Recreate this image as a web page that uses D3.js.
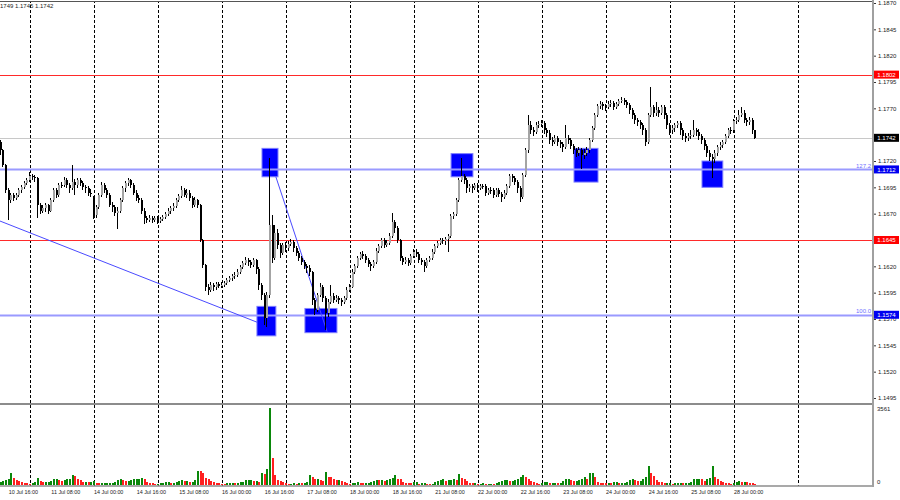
<!DOCTYPE html>
<html><head><meta charset="utf-8">
<script src="https://cdn.jsdelivr.net/npm/d3@7"></script>
<style>body{margin:0;background:#fff}svg{display:block}text{font-family:"Liberation Sans",Arial,sans-serif}</style>
</head><body><svg id="c" width="900" height="500"></svg>
<script>
// Prices in pips above 1.1500 (EURUSD H1), one entry per hourly bar, 10 Jul 13:00 .. 28 Jul 08:00
const OPEN=[238,230,216,192,183,188,185,188,192,195,199,202,206,205,204,178,173,175,178,173,183,192,188,197,197,202,197,194,200,197,202,199,195,194,190,185,169,176,188,197,192,188,178,176,171,173,183,194,199,202,197,190,185,183,173,166,164,166,164,166,163,165,167,170,173,175,177,183,187,192,188,190,185,178,183,178,145,121,100,98,102,100,103,101,102,104,107,109,111,112,115,119,123,126,124,121,126,117,102,93,71,93,159,128,152,140,133,140,137,141,143,137,133,128,124,120,118,115,88,79,93,100,90,76,86,92,88,90,88,86,90,98,100,115,120,128,132,130,126,122,120,124,135,139,145,140,142,149,162,156,145,128,124,126,123,130,134,132,126,124,120,126,128,134,139,142,145,144,146,149,168,170,183,202,206,202,194,196,194,197,194,196,196,190,192,192,188,192,189,186,190,196,206,204,200,194,186,207,230,254,249,248,254,255,256,249,247,240,238,242,238,236,233,242,240,234,230,228,230,226,228,230,240,251,264,272,274,272,271,274,275,271,274,277,278,276,273,268,264,259,257,254,249,238,264,271,266,268,266,271,264,254,249,251,254,256,249,244,242,244,245,249,248,244,240,234,228,224,222,228,233,235,238,244,249,249,258,259,264,266,259,257,259,249];
const HIGH=[240,231,217,194,190,190,190,194,197,201,204,210,208,207,205,180,178,180,179,185,194,194,199,200,205,204,199,216,203,204,204,201,197,196,193,187,178,190,200,199,194,190,181,178,176,185,196,201,204,203,199,192,188,185,175,168,169,168,168,168,167,169,172,175,177,180,185,189,196,194,193,192,187,186,184,179,146,122,103,105,104,105,105,105,106,109,111,113,115,117,121,125,129,128,126,128,127,119,104,95,96,223,169,159,155,142,142,143,144,146,145,139,135,130,126,122,121,116,90,95,104,102,92,89,102,95,93,92,90,92,100,103,117,122,130,134,135,132,128,124,126,137,141,147,147,145,152,171,164,158,146,130,129,128,132,136,136,134,128,126,128,130,136,141,144,147,147,148,151,170,172,185,204,223,208,204,198,198,199,199,198,198,198,194,195,194,194,194,191,192,198,208,208,206,202,196,209,232,264,258,252,257,258,259,258,251,249,243,245,244,240,238,254,245,242,236,232,233,232,231,233,242,253,266,274,277,276,274,277,278,277,276,279,281,280,278,275,270,266,261,259,256,251,266,290,273,276,271,273,273,266,256,254,256,258,258,251,247,247,249,259,251,250,246,242,236,230,227,230,235,238,240,246,251,252,260,262,268,271,268,261,262,261,249];
const LOW=[226,214,190,164,180,182,183,186,190,193,197,200,202,200,166,170,171,172,170,172,181,185,186,194,195,194,190,192,188,194,196,192,190,187,186,165,166,174,186,190,185,176,172,168,155,171,181,191,196,194,188,182,180,170,160,161,162,161,162,160,161,163,165,168,170,173,175,181,185,186,185,182,175,176,175,143,118,97,93,96,97,98,99,99,100,102,105,106,108,110,113,117,121,120,118,119,113,98,88,64,62,90,123,126,136,128,131,134,135,139,134,130,125,121,117,114,111,83,74,77,91,86,60,72,84,85,86,84,82,84,88,96,99,113,118,126,127,123,119,116,118,122,133,137,137,138,140,147,152,142,125,121,122,120,121,128,129,123,121,115,118,124,126,132,137,140,141,140,134,147,165,168,181,200,198,190,191,190,192,191,192,193,187,188,189,185,186,186,181,184,188,194,200,197,190,181,184,205,228,246,244,246,251,252,246,243,236,234,236,234,232,229,231,236,231,227,224,225,212,222,225,228,238,249,262,269,268,267,269,271,268,269,272,275,273,270,265,260,255,253,250,245,234,236,262,262,263,262,264,260,250,245,246,248,251,245,240,238,239,241,243,244,240,236,230,224,220,204,218,225,230,232,236,242,246,247,255,257,262,256,253,254,246,241];
const CLOSE=[230,216,192,183,188,185,188,192,195,199,202,206,205,204,178,173,175,178,173,183,192,188,197,197,202,197,194,200,197,202,199,195,194,190,190,169,176,188,197,192,188,178,176,171,173,183,194,199,202,197,190,185,183,173,166,164,166,164,166,163,165,167,170,173,175,177,183,187,192,188,190,185,178,183,178,145,121,100,98,102,100,103,101,102,104,107,109,111,112,115,119,123,126,124,121,126,117,102,93,71,93,159,128,152,140,133,140,137,141,143,137,133,128,124,120,118,115,88,79,93,100,90,76,86,92,88,90,88,86,90,98,100,115,120,128,132,130,126,122,120,124,135,139,145,140,142,149,162,156,145,128,124,126,123,130,134,132,126,124,120,126,128,134,139,142,145,144,146,149,168,170,183,202,206,202,194,196,194,197,194,196,196,190,192,192,188,192,189,186,190,196,206,204,200,194,186,207,230,254,249,248,254,255,256,249,247,240,238,242,238,236,233,242,240,234,230,228,230,226,228,230,240,251,264,272,274,272,271,274,275,271,274,277,278,276,273,268,264,259,257,254,249,238,264,271,266,268,266,271,264,254,249,251,254,256,249,244,242,244,245,249,248,244,240,234,228,224,222,228,233,235,238,244,249,249,258,259,264,266,259,257,259,249,242];
const VOLUME=[152,198,230,262,566,322,230,184,152,106,78,60,78,152,322,184,138,138,152,184,290,290,230,198,230,276,290,460,414,262,230,138,138,124,124,184,106,92,92,92,92,92,92,124,230,262,230,198,198,230,262,262,290,336,290,138,106,78,60,60,78,78,124,124,92,92,124,184,230,184,184,152,152,230,658,644,566,322,262,184,138,106,78,60,46,78,92,92,78,78,124,152,230,230,230,198,198,152,538,492,722,3561,1256,460,230,184,138,78,46,46,78,60,92,78,78,152,460,354,262,290,230,184,584,382,354,276,230,230,170,124,92,60,78,92,124,106,92,92,92,138,184,230,216,230,184,230,290,336,446,276,262,152,106,92,78,124,138,60,78,78,60,46,60,152,198,230,262,198,230,230,262,230,492,336,262,198,106,78,78,32,60,92,60,60,60,32,78,124,198,230,230,198,198,230,262,382,474,382,262,184,124,78,60,92,124,124,106,106,106,78,78,184,262,276,230,198,198,230,262,382,290,538,538,354,152,106,92,78,106,92,124,138,78,78,78,138,230,276,230,184,184,262,382,874,538,428,230,152,138,106,106,106,60,78,106,106,78,78,92,152,276,290,290,262,198,262,322,874,382,276,198,152,106,78,60,106,138,184,152,152,124,106,92,46];

const priceTicks=[1.1870,1.1845,1.1820,1.1795,1.1770,1.1745,1.1720,1.1695,1.1670,1.1645,1.1620,1.1595,1.1570,1.1545,1.1520,1.1495];
const timeLabels=["10 Jul 16:00","11 Jul 08:00","14 Jul 00:00","14 Jul 16:00","15 Jul 08:00","16 Jul 00:00","16 Jul 16:00","17 Jul 08:00","18 Jul 00:00","18 Jul 16:00","21 Jul 08:00","22 Jul 00:00","22 Jul 16:00","23 Jul 08:00","24 Jul 00:00","24 Jul 16:00","25 Jul 08:00","28 Jul 00:00"];
const timeLabelBars=[3,19,35,51,67,83,99,115,131,147,163,179,195,211,227,243,259,275];
const gridBars=[11,35,59,83,107,131,155,179,203,227,251,275,299];

const levelValues=[1.1802,1.1645,1.1712,1.1574,1.1742];
const levelKinds=["red","red","fib","fib","bid"];
const fibNames=["127.2","100.0"];
const fibValues=[1.1712,1.1574];

// rectangles: bar range and price range (pips above 1.1500)
const boxBarFrom=[96.1,98.0,114.1,168.9,215.0,263.0];
const boxBarTo=[103.2,104.0,126.1,177.1,224.0,270.8];
const boxTop=[82,232,80,227,232,220];
const boxBottom=[54,205,57,205,200,195];
// trend lines [bar, pips]
const trendLines=[[[-0.25,163],[96.1,67]],[[103.2,205],[122.4,58]]];
const volumeMax=3561;
const headerText="1749 1.1745 1.1742";

const P=p=>1.15+p/10000;
const svg=d3.select("#c");
const axisX=872;
const x=d3.scaleLinear().domain([0,299]).range([0.67,0.67+299*8/3]);
const y=d3.scaleLinear().domain([1.1495,1.1870]).range([398,3]);
const yv=d3.scaleLinear().domain([0,volumeMax]).range([485,408]);

svg.append("rect").attr("width",900).attr("height",500).attr("fill","#fff");
const defs=svg.append("defs");
defs.append("clipPath").attr("id","cm").append("rect").attr("x",0).attr("y",1).attr("width",axisX).attr("height",402);
defs.append("clipPath").attr("id","cv").append("rect").attr("x",0).attr("y",405).attr("width",axisX).attr("height",81);

const main=svg.append("g").attr("clip-path","url(#cm)");
const vol=svg.append("g").attr("clip-path","url(#cv)");

// grid
[main,vol].forEach(g=>{
  g.selectAll("line.grid").data(gridBars).join("line").attr("class","grid")
   .attr("x1",d=>Math.round(x(d))+0.5).attr("x2",d=>Math.round(x(d))+0.5)
   .attr("y1",0).attr("y2",490).attr("stroke","#000").attr("stroke-width",1).attr("stroke-dasharray","3,2");
});

// boxes
main.selectAll("rect.box").data(boxTop).join("rect").attr("class","box")
  .attr("x",(d,i)=>x(boxBarFrom[i])).attr("width",(d,i)=>x(boxBarTo[i])-x(boxBarFrom[i]))
  .attr("y",d=>y(P(d))).attr("height",(d,i)=>y(P(boxBottom[i]))-y(P(d)))
  .attr("fill","#0000ff").attr("stroke","#7f7fff").attr("stroke-width",1);

// levels
levelValues.forEach((v,i)=>{
  const k=levelKinds[i];
  const col=k==="red"?"#ff2a2a":k==="fib"?"#9a9aff":"#c8c8c8";
  main.append("line").attr("x1",0).attr("x2",axisX).attr("y1",Math.round(y(v))+0.5).attr("y2",Math.round(y(v))+0.5)
    .attr("stroke",col).attr("stroke-width",k==="fib"?2:1);
});
fibValues.forEach((v,i)=>{
  main.append("text").attr("x",axisX-1).attr("y",y(v)-1.5).attr("text-anchor","end")
   .attr("font-size","6px").attr("fill","#6f6fff").text(fibNames[i]);
});

// trend lines
trendLines.forEach(t=>{
  main.append("line").attr("x1",x(t[0][0])).attr("y1",y(P(t[0][1]))).attr("x2",x(t[1][0])).attr("y2",y(P(t[1][1])))
    .attr("stroke","#4a4aff").attr("stroke-width",1);
});

// candles
const cg=main.append("g").attr("shape-rendering","crispEdges");
CLOSE.forEach((c,i)=>{
  const o=OPEN[i],h=HIGH[i],l=LOW[i];
  const xc=Math.round(x(i));
  const yh=Math.round(y(P(h))),yl=Math.round(y(P(l)));
  cg.append("rect").attr("x",xc-1).attr("width",1).attr("y",yh).attr("height",Math.max(1,yl-yh)).attr("fill","#000");
  const yo=Math.round(y(P(o))),yc=Math.round(y(P(c)));
  const top=Math.min(yo,yc),bot=Math.max(yo,yc);
  cg.append("rect").attr("x",xc-1).attr("width",2).attr("y",top).attr("height",Math.max(1,bot-top))
    .attr("fill",c>o?"#a4a4a4":"#000");
});

// volumes
const vg=vol.append("g").attr("shape-rendering","crispEdges");
VOLUME.forEach((v,i)=>{
  const xc=Math.round(x(i));
  const up=i===0||v>=VOLUME[i-1];
  vg.append("rect").attr("x",xc-1).attr("width",2).attr("y",yv(v)).attr("height",485-yv(v))
    .attr("fill",up?"#0a870a":"#ff1f1f");
});

// frames
svg.append("line").attr("x1",0).attr("x2",axisX).attr("y1",1.5).attr("y2",1.5).attr("stroke","#555").attr("stroke-width",1);
svg.append("rect").attr("x",0).attr("y",403).attr("width",axisX+1).attr("height",2).attr("fill","#8c8c8c");
svg.append("line").attr("x1",0).attr("x2",axisX+1).attr("y1",486).attr("y2",486).attr("stroke","#8c8c8c").attr("stroke-width",1.5);
svg.append("rect").attr("x",axisX).attr("y",0).attr("width",2).attr("height",487).attr("fill","#a0a0a0");

// price axis (tick labels covered by a level value box are not shown, as in the terminal)
const covered=v=>levelValues.some(l=>Math.abs(y(l)-y(v))<4);
const ax=svg.append("g").attr("transform",`translate(${axisX+2},0)`)
  .call(d3.axisRight(y).tickValues(priceTicks).tickFormat(d=>covered(d)?"":d3.format(".4f")(d)).tickSize(2).tickPadding(2));
ax.select(".domain").remove();
ax.selectAll("line").attr("stroke","#333");
ax.selectAll("text").attr("font-size","6px").attr("fill","#222").attr("font-family","Liberation Sans, Arial, sans-serif");

// value boxes
levelValues.forEach((v,i)=>{
  const k=levelKinds[i];
  const bg=k==="red"?"#ff0000":k==="fib"?"#0000f0":"#000";
  const yy=y(v);
  svg.append("rect").attr("x",axisX+2).attr("y",yy-4).attr("width",25).attr("height",8).attr("fill",bg);
  svg.append("text").attr("x",axisX+14.5).attr("y",yy+2.2).attr("text-anchor","middle")
    .attr("font-size","6px").attr("fill","#fff").text(d3.format(".4f")(v));
});

// volume axis labels
svg.append("text").attr("x",axisX+5).attr("y",yv(volumeMax)+3).attr("font-size","6px").attr("fill","#222").text(volumeMax);
svg.append("text").attr("x",axisX+5).attr("y",yv(0)-1).attr("font-size","6px").attr("fill","#222").text("0");

// time labels
svg.selectAll("text.tl").data(timeLabels).join("text").attr("class","tl")
  .attr("x",(d,i)=>x(timeLabelBars[i])).attr("y",494).attr("font-size","5.4px").attr("fill","#222").text(d=>d);

svg.append("text").attr("x",0).attr("y",8).attr("font-size","6px").attr("fill","#222").text(headerText);
</script></body></html>
